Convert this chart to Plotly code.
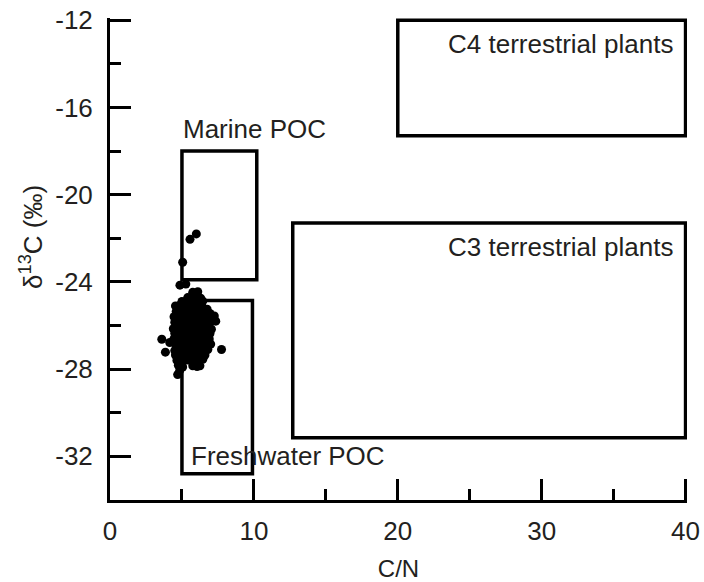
import plotly.graph_objects as go

# ---- sample data (C/N vs d13C) ----
cn = [
    5.75, 6.1,
    5.4, 5.9, 6.3,
    5.0, 5.5, 5.8, 6.2, 6.45,
    4.55, 4.9, 5.3, 5.7, 6.0, 6.4, 6.75,
    4.6, 5.0, 5.35, 5.65, 5.95, 6.3, 6.6, 6.95,
    4.45, 4.8, 5.15, 5.5, 5.85, 6.15, 6.5, 6.85, 7.25,
    4.5, 4.85, 5.2, 5.55, 5.9, 6.25, 6.6, 6.95, 7.35,
    4.4, 4.75, 5.1, 5.45, 5.8, 6.15, 6.5, 6.85, 7.05,
    4.5, 4.85, 5.2, 5.55, 5.9, 6.25, 6.6, 6.95,
    3.6, 4.45, 4.8, 5.15, 5.5, 5.85, 6.2, 6.55, 6.9,
    4.15, 4.55, 4.9, 5.25, 5.6, 5.95, 6.3, 6.65, 7.0,
    3.85, 4.5, 4.85, 5.2, 5.55, 5.9, 6.25, 6.6, 6.8, 7.75,
    4.55, 4.9, 5.25, 5.6, 5.95, 6.3, 6.6,
    4.65, 5.0, 5.35, 5.7, 6.05, 6.45,
    4.75, 5.05, 5.75, 6.05, 6.25,
    4.7, 4.85,
    4.86, 5.27, 5.05, 5.56, 6.0,
]
d13c = [
    -24.48, -24.45,
    -24.72, -24.68, -24.75,
    -24.9, -24.95, -24.85, -24.92, -24.88,
    -25.1, -25.05, -25.15, -25.1, -25.08, -25.12, -25.25,
    -25.35, -25.4, -25.3, -25.38, -25.33, -25.4, -25.36, -25.45,
    -25.6, -25.55, -25.62, -25.58, -25.65, -25.6, -25.57, -25.63, -25.56,
    -25.85, -25.9, -25.82, -25.88, -25.85, -25.9, -25.83, -25.87, -25.8,
    -26.15, -26.1, -26.05, -26.12, -26.1, -26.08, -26.14, -26.1, -26.17,
    -26.35, -26.4, -26.32, -26.38, -26.35, -26.4, -26.33, -26.37,
    -26.63, -26.6, -26.65, -26.58, -26.62, -26.6, -26.66, -26.6, -26.62,
    -26.78, -26.85, -26.9, -26.82, -26.88, -26.85, -26.9, -26.83, -26.85,
    -27.22, -27.15, -27.1, -27.05, -27.12, -27.1, -27.08, -27.14, -27.1, -27.1,
    -27.35, -27.4, -27.32, -27.38, -27.35, -27.4, -27.35,
    -27.6, -27.62, -27.58, -27.65, -27.6, -27.55,
    -27.82, -27.9, -27.85, -27.88, -27.85,
    -28.25, -28.05,
    -24.15, -24.1, -23.1, -22.05, -21.8,
]

# ---- source end-member boxes ----
box_names = ["Marine POC", "Freshwater POC", "C3 terrestrial plants", "C4 terrestrial plants"]
box_cn_min = [5.0, 5.0, 12.7, 20.0]
box_cn_max = [10.2, 9.9, 40.0, 40.0]
box_d13c_min = [-23.9, -32.8, -31.15, -17.3]
box_d13c_max = [-18.0, -24.85, -21.3, -12.0]

# label anchor positions (data units)
label_x = [4.93, 5.5, 39.3, 39.3]
label_y = [-17.0, -32.0, -22.4, -13.1]
label_anchor = ["left", "left", "right", "right"]

# ---- axis ticks ----
x_tickvals = [0, 10, 20, 30, 40]
y_tickvals = [-32, -28, -24, -20, -16, -12]

FONT = "Liberation Sans, Arial, Helvetica, sans-serif"
TXT = "#231f20"

fig = go.Figure()

for i, name in enumerate(box_names):
    fig.add_shape(
        type="rect", xref="x", yref="y",
        x0=box_cn_min[i], x1=box_cn_max[i],
        y0=box_d13c_min[i], y1=box_d13c_max[i],
        line=dict(color="black", width=3.5), fillcolor="rgba(0,0,0,0)",
        layer="above",
    )
    fig.add_annotation(
        x=label_x[i], y=label_y[i], xref="x", yref="y",
        text=name, showarrow=False, xanchor=label_anchor[i], yanchor="middle",
        font=dict(family=FONT, size=26, color=TXT),
    )

fig.add_trace(go.Scatter(
    x=cn, y=d13c, mode="markers",
    marker=dict(color="black", size=9, line=dict(width=0)),
    showlegend=False, cliponaxis=False,
))

fig.add_annotation(
    xref="paper", yref="paper", x=-0.135, y=0.546,
    text="δ<sup>13</sup>C (‰)", textangle=-90, showarrow=False,
    xanchor="center", yanchor="middle",
    font=dict(family=FONT, size=26, color=TXT),
)

fig.update_layout(
    width=704, height=582,
    margin=dict(l=110, r=17, t=18, b=82),
    paper_bgcolor="white", plot_bgcolor="white",
    font=dict(family=FONT, size=26, color=TXT),
    xaxis=dict(
        range=[0, 40.1], tickvals=x_tickvals, ticktext=[str(v) for v in x_tickvals],
        ticks="inside", ticklen=21, tickwidth=3, tickcolor="black",
        showline=True, linewidth=3, linecolor="black",
        showgrid=False, zeroline=False,
        minor=dict(dtick=5, tick0=0, ticks="inside", ticklen=11, tickwidth=3, tickcolor="black", showgrid=False),
        tickfont=dict(family=FONT, size=26, color=TXT),
        ticklabelstandoff=6,
        title=dict(text="C/N", font=dict(family=FONT, size=24, color=TXT), standoff=16),
        automargin=False,
    ),
    yaxis=dict(
        range=[-34, -11.9], tickvals=y_tickvals, ticktext=[str(v) for v in y_tickvals],
        ticks="inside", ticklen=21, tickwidth=3, tickcolor="black",
        showline=True, linewidth=3, linecolor="black",
        showgrid=False, zeroline=False,
        minor=dict(dtick=2, tick0=-12, ticks="inside", ticklen=11, tickwidth=3, tickcolor="black", showgrid=False),
        tickfont=dict(family=FONT, size=26, color=TXT),
        ticklabelstandoff=9,
        automargin=False,
    ),
)

fig.write_html("out.html")
